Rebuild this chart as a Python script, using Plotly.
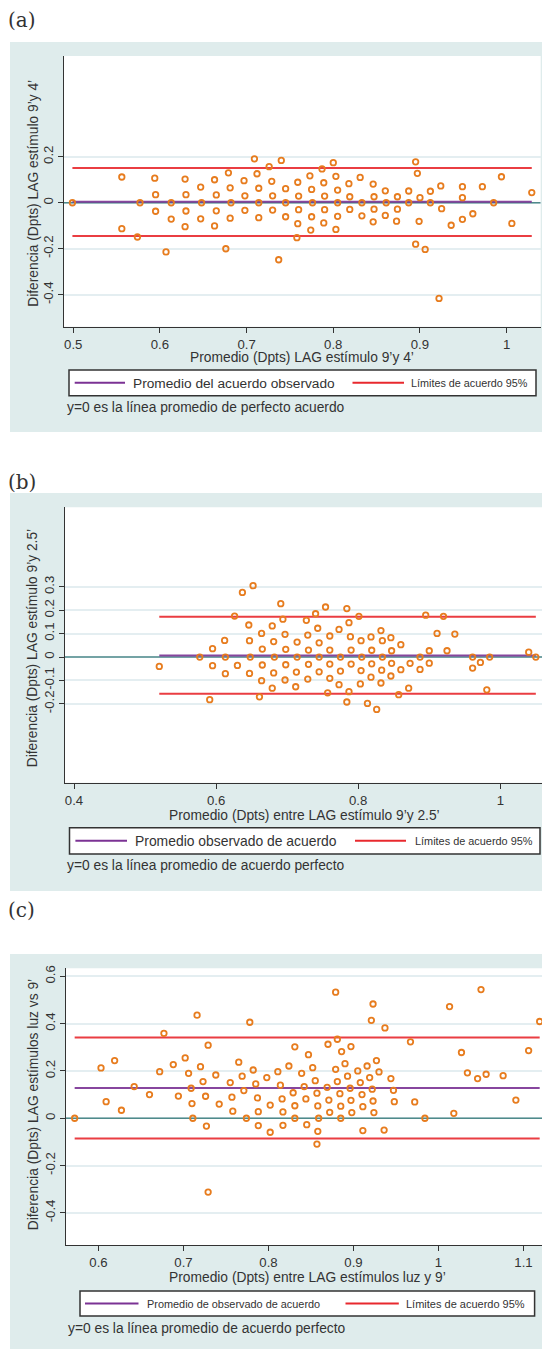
import plotly.graph_objects as go

# page size and browser body offset (default 8px body margin)
PAGE_W, PAGE_H = 550, 1349
OFF = 8
W, H = PAGE_W - OFF, PAGE_H - OFF

# ---------------- data: panel (a) ----------------
a_prom = [0.499, 0.556, 0.556, 0.574, 0.577, 0.594, 0.595, 0.595, 0.607, 0.613, 0.613, 0.629, 0.630, 0.630, 0.629,
          0.647, 0.648, 0.647, 0.663, 0.665, 0.665, 0.663, 0.676, 0.679, 0.681, 0.682, 0.681, 0.697, 0.698, 0.698,
          0.709, 0.712, 0.714, 0.714, 0.714, 0.737, 0.726, 0.740, 0.729, 0.730, 0.730, 0.745, 0.745, 0.745, 0.759,
          0.760, 0.760, 0.759, 0.758, 0.773, 0.775, 0.776, 0.775, 0.774, 0.787, 0.800, 0.789, 0.790, 0.790, 0.789,
          0.803, 0.805, 0.805, 0.805, 0.803, 0.818, 0.819, 0.819, 0.831, 0.833, 0.833, 0.846, 0.847, 0.847, 0.846,
          0.860, 0.861, 0.860, 0.874, 0.874, 0.873, 0.887, 0.887, 0.895, 0.897, 0.900, 0.899, 0.895, 0.906, 0.922,
          0.912, 0.912, 0.924, 0.925, 0.936, 0.949, 0.949, 0.949, 0.961, 0.972, 0.985, 0.994, 1.006, 1.029]
a_dif = [0.000, 0.112, -0.113, -0.149, 0.000, 0.107, 0.035, -0.037, -0.214, 0.000, -0.071, 0.103, 0.035, -0.036, -0.104,
         0.068, 0.000, -0.070, 0.100, 0.034, -0.035, -0.101, -0.200, 0.130, 0.065, 0.000, -0.067, 0.096, 0.030, -0.033,
         0.191, 0.126, 0.063, 0.000, -0.065, -0.248, 0.157, 0.184, 0.093, 0.030, -0.032, 0.061, 0.000, -0.061, 0.089,
         0.029, -0.030, -0.091, -0.152, 0.117, 0.058, 0.000, -0.061, -0.119, 0.147, 0.174, 0.087, 0.029, -0.030, -0.088,
         0.115, 0.055, 0.000, -0.059, -0.116, 0.083, 0.026, -0.029, 0.110, 0.000, -0.057, 0.081, 0.026, -0.028, -0.083,
         0.052, 0.000, -0.055, 0.026, -0.028, -0.080, 0.051, 0.000, 0.178, 0.128, 0.022, -0.081, -0.180, -0.203, -0.416,
         0.050, 0.000, 0.073, -0.026, -0.098, 0.070, 0.022, -0.072, -0.048, 0.070, 0.000, 0.113, -0.090, 0.044]
a_media = 0.004
a_lim_sup = 0.151
a_lim_inf = -0.145
a_xticks = [0.5, 0.6, 0.7, 0.8, 0.9, 1.0]
a_xlabels = ["0.5", "0.6", "0.7", "0.8", "0.9", "1"]
a_yticks = [-0.4, -0.2, 0.0, 0.2]
a_ylabels = ["-0.4", "-0.2", "0", "0.2"]

# ---------------- data: panel (b) ----------------
b_prom = [0.520, 0.577, 0.591, 0.595, 0.595, 0.612, 0.613, 0.613, 0.626, 0.630, 0.637, 0.652, 0.646, 0.647, 0.648,
          0.647, 0.661, 0.664, 0.665, 0.665, 0.664, 0.679, 0.681, 0.682, 0.681, 0.679, 0.691, 0.694, 0.697, 0.698,
          0.698, 0.697, 0.712, 0.714, 0.714, 0.713, 0.727, 0.729, 0.730, 0.730, 0.729, 0.740, 0.754, 0.743, 0.745,
          0.745, 0.745, 0.757, 0.760, 0.760, 0.760, 0.760, 0.784, 0.787, 0.773, 0.789, 0.775, 0.775, 0.773, 0.790,
          0.790, 0.787, 0.784, 0.801, 0.804, 0.805, 0.804, 0.803, 0.818, 0.819, 0.819, 0.818, 0.813, 0.826, 0.832,
          0.834, 0.834, 0.833, 0.832, 0.846, 0.847, 0.847, 0.846, 0.860, 0.860, 0.857, 0.871, 0.873, 0.887, 0.887,
          0.895, 0.900, 0.900, 0.911, 0.920, 0.925, 0.936, 0.961, 0.961, 0.972, 0.985, 0.981, 1.040, 1.050]
b_dif = [-0.040, 0.000, -0.182, 0.036, -0.037, 0.071, 0.000, -0.071, 0.175, -0.036, 0.276, 0.305, 0.137, 0.070, 0.000,
         -0.070, -0.170, 0.101, 0.034, -0.034, -0.101, 0.133, 0.066, 0.000, -0.068, -0.133, 0.228, 0.162, 0.097, 0.033,
         -0.033, -0.098, -0.127, 0.064, 0.000, -0.064, 0.157, 0.094, 0.030, -0.031, -0.094, 0.185, 0.214, 0.123, 0.061,
         0.000, -0.063, -0.153, 0.090, 0.030, -0.030, -0.091, 0.207, 0.147, 0.118, 0.087, 0.000, -0.060, -0.118, 0.030,
         -0.030, -0.148, -0.192, 0.174, 0.070, 0.000, -0.058, -0.115, 0.086, 0.029, -0.029, -0.086, -0.198, -0.224, 0.113,
         0.070, 0.000, -0.056, -0.111, 0.083, 0.027, -0.027, -0.081, 0.053, -0.054, -0.161, -0.133, -0.027, 0.000, -0.053,
         0.179, 0.027, -0.026, 0.101, 0.174, 0.027, 0.098, 0.000, -0.047, -0.023, 0.000, -0.140, 0.021, 0.000]
b_media = 0.007
b_lim_sup = 0.172
b_lim_inf = -0.157
b_xticks = [0.4, 0.6, 0.8, 1.0]
b_xlabels = ["0.4", "0.6", "0.8", "1"]
b_yticks = [-0.2, -0.1, 0.0, 0.1, 0.2, 0.3]
b_ylabels = ["-0.2", "-0.1", "0", "0.1", "0.2", "0.3"]

# ---------------- data: panel (c) ----------------
c_prom = [0.572, 0.603, 0.609, 0.619, 0.627, 0.642, 0.660, 0.672, 0.677, 0.688, 0.694, 0.702, 0.706, 0.709, 0.710,
          0.711, 0.716, 0.720, 0.723, 0.726, 0.727, 0.729, 0.729, 0.738, 0.742, 0.755, 0.757, 0.758, 0.765, 0.769,
          0.771, 0.774, 0.778, 0.782, 0.785, 0.787, 0.788, 0.788, 0.798, 0.802, 0.802, 0.811, 0.814, 0.816, 0.817,
          0.817, 0.824, 0.829, 0.831, 0.831, 0.831, 0.839, 0.842, 0.844, 0.845, 0.847, 0.852, 0.855, 0.857, 0.858,
          0.859, 0.858, 0.857, 0.870, 0.879, 0.881, 0.886, 0.879, 0.881, 0.869, 0.871, 0.872, 0.884, 0.885, 0.885,
          0.893, 0.897, 0.890, 0.896, 0.897, 0.898, 0.905, 0.908, 0.910, 0.911, 0.911, 0.916, 0.919, 0.921, 0.923,
          0.922, 0.923, 0.924, 0.927, 0.930, 0.937, 0.936, 0.944, 0.947, 0.948, 0.967, 0.972, 0.984, 1.013, 1.018,
          1.027, 1.034, 1.046, 1.050, 1.056, 1.076, 1.091, 1.106, 1.119]
c_dif = [0.000, 0.213, 0.070, 0.244, 0.034, 0.134, 0.100, 0.197, 0.359, 0.227, 0.094, 0.255, 0.190, 0.127, 0.062,
         0.000, 0.436, 0.218, 0.155, 0.093, -0.033, 0.309, -0.312, 0.183, 0.060, 0.151, 0.089, 0.030, 0.237, 0.178,
         0.117, 0.000, 0.406, 0.204, 0.145, 0.086, 0.028, -0.031, 0.172, 0.056, -0.059, 0.197, 0.140, 0.082, 0.027,
         -0.030, 0.221, 0.108, 0.053, 0.000, 0.302, 0.190, 0.134, 0.082, -0.027, 0.269, 0.214, 0.159, 0.106, 0.052,
         0.000, -0.055, -0.109, 0.313, 0.533, 0.334, 0.282, 0.207, 0.155, 0.131, 0.077, 0.025, 0.104, 0.051, 0.000,
         0.178, 0.303, 0.231, 0.127, 0.076, 0.024, 0.200, 0.151, 0.100, 0.049, -0.052, 0.221, 0.172, 0.414, 0.483,
         0.123, 0.073, 0.024, 0.244, 0.196, 0.382, -0.050, 0.168, 0.118, 0.070, 0.323, 0.069, 0.000, 0.472, 0.021,
         0.278, 0.192, 0.168, 0.544, 0.186, 0.180, 0.077, 0.286, 0.409]
c_media = 0.128
c_lim_sup = 0.341
c_lim_inf = -0.086
c_xticks = [0.6, 0.7, 0.8, 0.9, 1.0, 1.1]
c_xlabels = ["0.6", "0.7", "0.8", "0.9", "1", "1.1"]
c_yticks = [-0.4, -0.2, 0.0, 0.2, 0.4, 0.6]
c_ylabels = ["-0.4", "-0.2", "0", "0.2", "0.4", "0.6"]

# ---------------- texts ----------------
etiquetas = ["(a)", "(b)", "(c)"]
x_titulos = ["Promedio (Dpts) LAG estímulo 9’y 4’",
             "Promedio (Dpts) entre LAG estímulo 9’y 2.5’",
             "Promedio (Dpts) entre LAG estímulos luz y 9’"]
y_titulos = ["Diferencia (Dpts) LAG estímulo 9’y 4’",
             "Diferencia (Dpts) LAG estímulo 9’y 2.5’",
             "Diferencia (Dpts) LAG estímulos luz vs 9’"]
leg_media = ["Promedio del acuerdo observado",
             "Promedio observado de acuerdo",
             "Promedio de observado de acuerdo"]
leg_lim = ["Límites de acuerdo 95%"] * 3
notas = ["y=0 es la línea promedio de perfecto acuerdo",
         "y=0 es la línea promedio de acuerdo perfecto",
         "y=0 es la línea promedio de acuerdo perfecto"]

# ---------------- styling / layout geometry (page pixels) ----------------
FONT = "Liberation Sans, Arial, sans-serif"
SERIF = "DejaVu Serif, Liberation Serif, serif"
TXT = "#333333"
BG = "#dfecec"
ORANGE = "#e77c1e"
PURPLE = "#7b3294"
RED = "#e8292e"
TEAL = "#4f8a8b"
GRID = "#e4eef1"


def px(x):
    return (x - OFF) / W


def py(y):
    return 1 - (y - OFF) / H


panels = [
    dict(x=a_prom, y=a_dif, mean=a_media, up=a_lim_sup, lo=a_lim_inf,
         xt=a_xticks, xl=a_xlabels, yt=a_yticks, yl=a_ylabels,
         plot=(64, 540.7, 56, 326.7), xr=[0.4893, 1.0393], yr=[-0.539, 0.638],
         bg=(10, 550, 42, 432), lab_y=20, xt_y=357.7, yt_y=193.5,
         legbox=(69, 370, 536, 395.7), l1=(74.7, 125, 133, 13.7), l2=(352.5, 404, 411.4, 10.8), note=(66.6, 407.3)),
    dict(x=b_prom, y=b_dif, mean=b_media, up=b_lim_sup, lo=b_lim_inf,
         xt=b_xticks, xl=b_xlabels, yt=b_yticks, yl=b_ylabels,
         plot=(65, 544, 507.3, 782.7), xr=[0.3873, 1.0615], yr=[-0.537, 0.640],
         bg=(10, 550, 493, 891), lab_y=482, xt_y=815.7, yt_y=648,
         legbox=(69.5, 827.7, 540, 854), l1=(75.4, 127, 135, 13.9), l2=(355, 406, 414.6, 10.9), note=(67.3, 865.7)),
    dict(x=c_prom, y=c_dif, mean=c_media, up=c_lim_sup, lo=c_lim_inf,
         xt=c_xticks, xl=c_xlabels, yt=c_yticks, yl=c_ylabels,
         plot=(66, 548, 968.3, 1245.3), xr=[0.5618, 1.1288], yr=[-0.537, 0.634],
         bg=(10, 550, 954, 1349), lab_y=910, xt_y=1277.7, yt_y=1104,
         legbox=(80, 1291, 534.6, 1316), l1=(85, 138.5, 146.6, 10.9), l2=(345.5, 398.8, 406, 11.0), note=(68.4, 1328.3)),
]

fig = go.Figure()
shapes = []
annotations = []
layout_axes = {}

for i, p in enumerate(panels):
    n = "" if i == 0 else str(i + 1)
    xa, ya = "x" + n, "y" + n
    x0, x1, y0, y1 = p["plot"]

    # background region and white plot area
    bx0, bx1, by0, by1 = p["bg"]
    shapes.append(dict(type="rect", xref="paper", yref="paper", layer="below",
                       x0=px(bx0), x1=px(bx1), y0=py(by1), y1=py(by0),
                       fillcolor=BG, line=dict(width=0)))
    shapes.append(dict(type="rect", xref=xa + " domain", yref=ya + " domain", layer="below",
                       x0=0, x1=1, y0=0, y1=1, fillcolor="white", line=dict(width=0)))

    xmin, xmax = min(p["x"]), max(p["x"])
    # zero line (perfect agreement)
    fig.add_trace(go.Scatter(x=p["xr"], y=[0, 0], mode="lines", xaxis=xa, yaxis=ya,
                             line=dict(color=TEAL, width=1.6), hoverinfo="skip", showlegend=False))
    # limits of agreement
    for v in (p["up"], p["lo"]):
        fig.add_trace(go.Scatter(x=[xmin, xmax], y=[v, v], mode="lines", xaxis=xa, yaxis=ya,
                                 line=dict(color=RED, width=2), opacity=0.9, showlegend=False))
    # mean difference
    fig.add_trace(go.Scatter(x=[xmin, xmax], y=[p["mean"], p["mean"]], mode="lines", xaxis=xa, yaxis=ya,
                             line=dict(color=PURPLE, width=2), opacity=0.9, showlegend=False))
    # points
    fig.add_trace(go.Scatter(x=p["x"], y=p["y"], mode="markers", xaxis=xa, yaxis=ya,
                             marker=dict(symbol="circle-open", size=5.5, color=ORANGE,
                                         line=dict(width=1.8, color=ORANGE)),
                             showlegend=False))

    layout_axes["xaxis" + n] = dict(
        domain=[px(x0), px(x1)], range=p["xr"], anchor=ya, automargin=False,
        tickvals=p["xt"], ticktext=p["xl"], showgrid=False, zeroline=False,
        showline=True, linecolor=TXT, linewidth=1, ticks="outside", ticklen=5, tickcolor=TXT,
        tickfont=dict(family=FONT, size=13.2, color=TXT))
    layout_axes["yaxis" + n] = dict(
        domain=[py(y1), py(y0)], range=p["yr"], anchor=xa, automargin=False,
        tickvals=p["yt"], ticktext=p["yl"], tickangle=-90, showgrid=True, gridcolor=GRID, gridwidth=1.5,
        zeroline=False, showline=True, linecolor=TXT, linewidth=1, ticks="outside", ticklen=5, tickcolor=TXT,
        tickfont=dict(family=FONT, size=13.2, color=TXT))

    # panel label
    annotations.append(dict(text=etiquetas[i], xref="paper", yref="paper", x=px(6), y=py(p["lab_y"]),
                            xanchor="left", yanchor="middle", showarrow=False,
                            font=dict(family=SERIF, size=20, color=TXT)))
    # axis titles
    annotations.append(dict(text=x_titulos[i], xref="paper", yref="paper", x=px((x0 + x1) / 2), y=py(p["xt_y"]),
                            xanchor="center", yanchor="middle", showarrow=False,
                            font=dict(family=FONT, size=13.8, color=TXT)))
    annotations.append(dict(text=y_titulos[i], xref="paper", yref="paper", x=px(33.3), y=py(p["yt_y"]),
                            xanchor="center", yanchor="middle", showarrow=False, textangle=-90,
                            font=dict(family=FONT, size=13.8, color=TXT)))
    # legend box
    lx0, ly0, lx1, ly1 = p["legbox"]
    shapes.append(dict(type="rect", xref="paper", yref="paper", x0=px(lx0), x1=px(lx1), y0=py(ly1), y1=py(ly0),
                       fillcolor="white", line=dict(color=TXT, width=1.5)))
    ly = (ly0 + ly1) / 2
    for (sx0, sx1, tx, fs), col, txt in ((p["l1"], PURPLE, leg_media[i]), (p["l2"], RED, leg_lim[i])):
        shapes.append(dict(type="line", xref="paper", yref="paper", x0=px(sx0), x1=px(sx1), y0=py(ly), y1=py(ly),
                           line=dict(color=col, width=2)))
        annotations.append(dict(text=txt, xref="paper", yref="paper", x=px(tx - 2), y=py(ly + 0.5),
                                xanchor="left", yanchor="middle", showarrow=False,
                                font=dict(family=FONT, size=fs, color=TXT)))
    nx, ny = p["note"]
    annotations.append(dict(text=notas[i], xref="paper", yref="paper", x=px(nx - 2), y=py(ny),
                            xanchor="left", yanchor="middle", showarrow=False,
                            font=dict(family=FONT, size=13.8, color=TXT)))

fig.update_layout(template="none", width=W, height=H, margin=dict(l=0, r=0, t=0, b=0, autoexpand=False),
                  paper_bgcolor="white", plot_bgcolor="rgba(0,0,0,0)",
                  showlegend=False, shapes=shapes, annotations=annotations, **layout_axes)

fig.write_html("out.html")
